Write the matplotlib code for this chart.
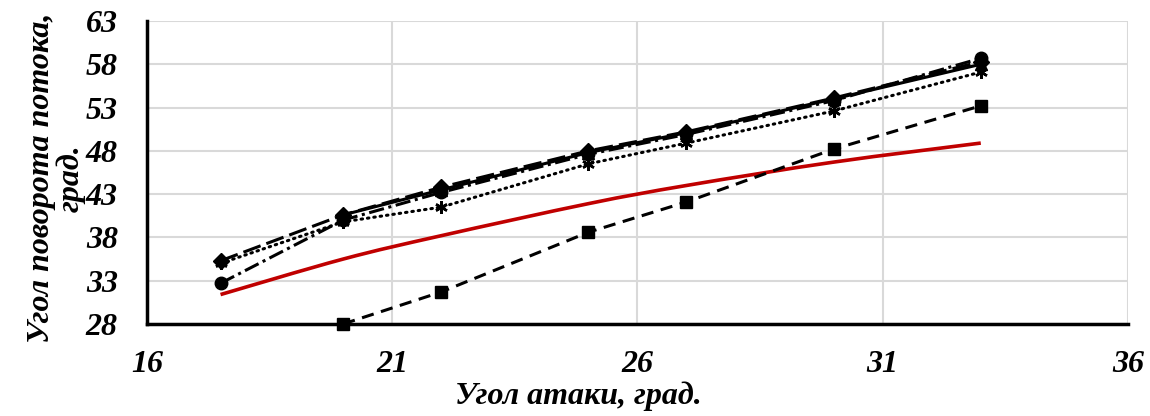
import matplotlib
matplotlib.use("Agg")
import matplotlib.pyplot as plt
from matplotlib.path import Path
from matplotlib.patches import PathPatch

# Angle of attack, deg
x_all = [17.5, 20, 22, 25, 27, 30, 33]
x_tri = [20, 22, 25, 27, 30, 33]
x_sq = [20, 22, 25, 27, 30, 33]

# Flow turning angle, deg
y_circle = [32.7, 40.0, 43.2, 47.6, 49.9, 53.8, 58.7]
y_diamond = [35.3, 40.6, 43.8, 48.0, 50.2, 54.1, 58.3]
y_triangle = [40.6, 43.5, 47.8, 50.1, 54.0, 58.0]
y_star = [35.0, 39.8, 41.5, 46.5, 48.9, 52.6, 57.1]
y_square = [28.0, 31.7, 38.6, 42.1, 48.2, 53.2]

x_red = [17.5, 20, 22, 25, 27, 30, 33]
y_red = [31.4, 35.5, 38.2, 41.9, 44.0, 46.7, 48.9]

x_ticks = [16, 21, 26, 31, 36]
y_ticks = [28, 33, 38, 43, 48, 53, 58, 63]

font = dict(family="Liberation Serif", weight="bold", style="italic")
FS = 23


def smooth_path(xs, ys, tension=1 / 6):
    """Cubic Bezier path through the points (Catmull-Rom style smoothing)."""
    pts = list(zip(xs, ys))
    verts = [pts[0]]
    codes = [Path.MOVETO]
    n = len(pts)
    for i in range(n - 1):
        p0 = pts[i - 1] if i > 0 else pts[i]
        p1 = pts[i]
        p2 = pts[i + 1]
        p3 = pts[i + 2] if i + 2 < n else pts[i + 1]
        c1 = (p1[0] + (p2[0] - p0[0]) * tension, p1[1] + (p2[1] - p0[1]) * tension)
        c2 = (p2[0] - (p3[0] - p1[0]) * tension, p2[1] - (p3[1] - p1[1]) * tension)
        verts += [c1, c2, p2]
        codes += [Path.CURVE4] * 3
    return Path(verts, codes)


fig = plt.figure(figsize=(11.5, 4.16), dpi=100)
ax = fig.add_axes([0.1278, 0.2212, 0.8530, 0.7283])

ax.plot(x_all, y_star, color="black", lw=2.2, ls=(0, (0.5, 1.6)),
        dash_capstyle="round", marker=(6, 2, 0), ms=9, mew=1.8, zorder=3)
ax.plot(x_all, y_circle, color="black", lw=2.2, ls=(0, (5, 1.5, 1, 1.5)),
        marker="o", ms=9, zorder=3)
ax.plot(x_all, y_diamond, color="black", lw=2.2, ls=(0, (6, 2)),
        marker="D", ms=8, zorder=3)
ax.plot(x_tri, y_triangle, color="black", lw=2.2, ls="-",
        marker="^", ms=9, zorder=3)
ax.plot(x_sq, y_square, color="black", lw=2.2, ls=(0, (4, 2.5)),
        marker="s", ms=8, zorder=3, clip_on=False)
ax.add_patch(PathPatch(smooth_path(x_red, y_red), facecolor="none",
                       edgecolor="#c00000", lw=2.6, zorder=2))

ax.set_xlim(16, 36)
ax.set_ylim(28, 63)
ax.set_xticks(x_ticks)
ax.set_yticks(y_ticks)
ax.set_xticklabels([str(t) for t in x_ticks], fontsize=FS, **font)
ax.set_yticklabels([str(t) for t in y_ticks], fontsize=FS, **font)
ax.tick_params(axis="both", length=0)
ax.tick_params(axis="x", pad=19)
ax.tick_params(axis="y", pad=21)

ax.grid(True, color="#d9d9d9", lw=1.5)
ax.set_axisbelow(True)
for s in ("top", "right"):
    ax.spines[s].set_visible(False)
for s in ("left", "bottom"):
    ax.spines[s].set_color("black")
    ax.spines[s].set_linewidth(2.5)

fig.text(578 / 1150, 1 - 396 / 416, "Угол атаки, град.", fontsize=FS,
         ha="center", va="center", **font)
fig.text(56 / 1150, 1 - 178 / 416, "Угол поворота потока,\nград.",
         fontsize=FS, rotation=90, ha="center", va="center",
         multialignment="center", linespacing=1.0, **font)

fig.savefig("out.png", dpi=100)
